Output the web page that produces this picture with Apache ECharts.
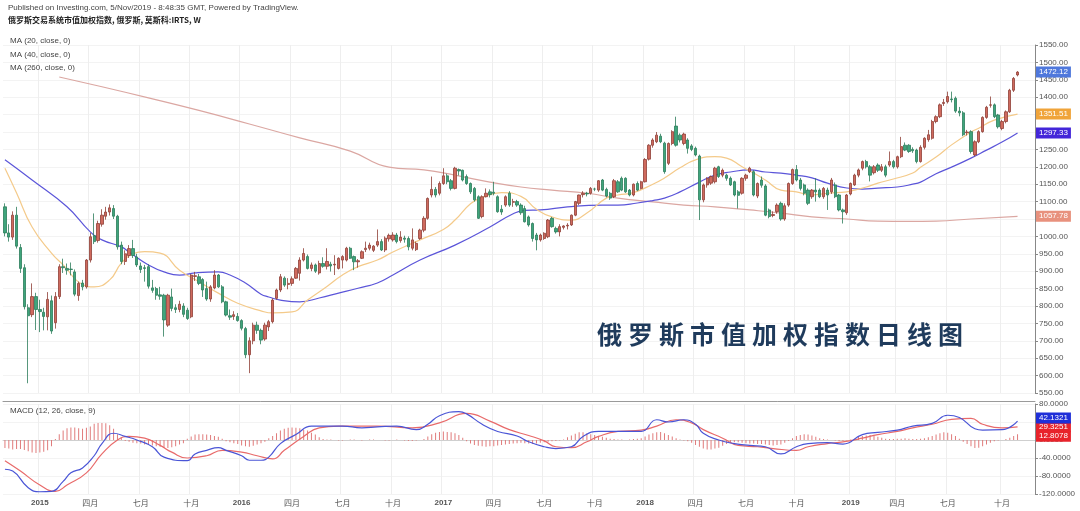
<!DOCTYPE html>
<html><head><meta charset="utf-8">
<script src="https://cdn.jsdelivr.net/npm/echarts@6/dist/echarts.min.js"></script>
<style>
html,body{margin:0;padding:0;background:#fff;}
#wrap{position:relative;width:1080px;height:511px;}
#c{width:1080px;height:511px;}
#ov{position:absolute;left:597px;top:315px;font:bold 25px "Noto Sans CJK SC";letter-spacing:6px;color:#1f3b5c;white-space:nowrap;pointer-events:none;}
</style></head><body>
<div id="wrap"><div id="c"></div><div id="ov">俄罗斯市值加权指数日线图</div></div>
<script>
// ---- DATA ----
const firstWeek = '2014-11-03';
const futureWeeks = 4;
// weekly [open, high, low, close]
const weeklyOHLC = [
[1085,1095,1000,1010],[1010,1035,985,998],[998,1072,990,1061],[1061,1085,965,972],[968,978,895,908],
[910,920,790,798],[795,805,578,772],[775,865,768,827],[827,838,731,790],[790,818,725,784],
[782,795,730,770],[769,840,730,819],[815,830,720,728],[752,840,735,827],[827,920,820,913],
[913,936,895,910],[908,922,890,903],[906,925,888,905],[898,905,828,834],[830,870,815,865],
[866,875,845,855],[855,935,850,932],[932,1010,925,999],[1002,1066,978,985],[988,1045,982,1037],
[1035,1078,1028,1061],[1058,1085,1048,1070],[1070,1092,1060,1082],[1080,1090,1050,1058],[1058,1062,962,970],
[975,985,920,928],[928,960,918,950],[945,975,938,965],[965,990,938,945],[941,950,912,918],
[915,925,895,905],[910,918,870,908],[913,920,850,857],[852,875,838,845],[850,855,818,831],
[832,855,818,828],[831,835,712,760],[745,835,740,831],[826,850,785,793],[795,805,780,790],
[790,815,782,805],[800,808,768,776],[788,795,760,764],[769,892,765,889],[885,898,872,887],
[884,892,860,865],[876,880,826,846],[850,870,815,820],[820,860,812,855],[852,903,848,889],
[889,892,852,855],[855,860,808,812],[812,815,770,774],[772,790,760,768],[770,785,760,775],
[770,780,755,758],[758,762,730,736],[735,740,650,660],[660,710,607,700],[700,752,690,745],
[745,755,720,730],[730,735,690,702],[705,752,700,745],[740,760,728,755],[755,822,750,817],
[822,850,818,846],[846,892,840,884],[880,885,855,860],[862,880,848,865],[865,885,858,878],
[880,912,878,908],[894,940,873,932],[932,966,928,951],[942,948,905,908],[908,925,900,918],
[918,922,895,900],[895,930,890,922],[922,940,910,914],[914,966,905,928],[920,927,899,915],
[918,946,889,920],[908,940,905,937],[932,946,908,942],[932,970,928,966],[966,970,935,937],
[942,945,903,927],[927,935,910,930],[937,960,935,956],[962,985,955,966],[966,982,960,975],
[960,975,955,972],[975,1020,970,985],[985,992,958,961],[961,1000,955,995],[993,1008,985,1003],
[990,1012,985,1004],[1004,1010,980,985],[988,1015,982,998],[995,1002,982,992],[994,1000,960,970],
[966,1023,960,990],[962,985,958,980],[994,1022,990,1018],[1018,1058,1012,1052],[1052,1112,1048,1109],
[1119,1172,1112,1135],[1135,1142,1112,1119],[1124,1158,1118,1152],[1152,1196,1148,1174],[1174,1180,1150,1157],
[1160,1165,1132,1138],[1138,1200,1135,1196],[1192,1195,1175,1188],[1190,1192,1158,1162],[1172,1178,1148,1152],
[1152,1155,1122,1128],[1138,1142,1100,1105],[1114,1118,1050,1052],[1057,1118,1052,1114],[1114,1138,1112,1124],
[1128,1135,1112,1120],[1127,1157,1118,1124],[1114,1118,1068,1071],[1078,1090,1062,1070],[1090,1118,1085,1114],
[1124,1130,1085,1090],[1098,1108,1085,1100],[1100,1105,1085,1090],[1090,1095,1062,1068],[1080,1088,1040,1042],
[1056,1060,1028,1033],[1037,1040,985,994],[1004,1010,960,990],[990,1008,985,1004],[994,1012,990,1009],
[999,1050,995,1047],[1052,1056,1025,1028],[1023,1028,1008,1013],[1013,1035,1000,1028],[1026,1032,1020,1030],
[1030,1038,1020,1032],[1033,1063,1030,1061],[1061,1102,1058,1100],[1095,1120,1090,1119],[1120,1130,1112,1124],
[1124,1128,1115,1122],[1124,1142,1120,1138],[1136,1140,1130,1136],[1133,1162,1128,1160],[1162,1165,1130,1133],
[1135,1140,1112,1116],[1124,1128,1105,1110],[1114,1165,1110,1160],[1157,1162,1125,1128],[1167,1172,1130,1133],
[1167,1170,1125,1128],[1133,1136,1115,1119],[1119,1152,1115,1150],[1152,1158,1130,1133],[1138,1160,1135,1157],
[1157,1225,1155,1221],[1222,1265,1218,1262],[1262,1282,1255,1277],[1272,1300,1268,1291],[1288,1295,1268,1272],
[1268,1272,1180,1186],[1210,1270,1205,1267],[1267,1305,1262,1301],[1317,1344,1258,1262],[1291,1296,1270,1277],
[1267,1298,1262,1294],[1277,1282,1238,1253],[1260,1265,1245,1250],[1253,1258,1230,1234],[1231,1235,1047,1105],
[1105,1152,1098,1148],[1148,1170,1140,1167],[1153,1175,1148,1172],[1157,1200,1152,1196],[1200,1203,1168,1172],
[1176,1195,1170,1190],[1176,1180,1160,1167],[1167,1172,1145,1148],[1157,1160,1115,1119],[1128,1133,1080,1118],
[1124,1170,1120,1167],[1167,1180,1160,1176],[1186,1200,1182,1196],[1186,1190,1115,1119],[1116,1155,1110,1152],
[1162,1172,1140,1147],[1145,1150,1058,1061],[1076,1080,1052,1057],[1060,1072,1055,1063],[1071,1095,1065,1090],
[1095,1100,1045,1050],[1050,1095,1045,1088],[1090,1155,1085,1152],[1152,1195,1148,1192],[1192,1205,1158,1162],
[1162,1168,1132,1138],[1148,1152,1118,1124],[1133,1138,1090,1095],[1114,1136,1108,1133],[1133,1167,1100,1128],
[1133,1138,1110,1114],[1114,1142,1108,1138],[1133,1140,1076,1119],[1128,1168,1122,1162],[1148,1155,1110,1114],
[1119,1122,1072,1076],[1076,1080,1037,1071],[1068,1122,1062,1119],[1122,1155,1118,1152],[1148,1180,1145,1176],
[1176,1195,1170,1191],[1196,1218,1190,1215],[1215,1220,1195,1200],[1200,1205,1158,1176],[1183,1205,1178,1200],
[1205,1210,1185,1190],[1190,1208,1185,1200],[1200,1206,1170,1176],[1205,1244,1200,1215],[1215,1220,1195,1200],
[1200,1232,1195,1229],[1229,1286,1225,1258],[1262,1270,1245,1248],[1262,1265,1240,1244],[1250,1256,1240,1246],
[1248,1252,1210,1215],[1215,1262,1212,1256],[1256,1285,1250,1282],[1278,1306,1272,1292],[1282,1335,1278,1330],
[1330,1348,1325,1344],[1344,1382,1340,1378],[1382,1395,1375,1385],[1387,1416,1382,1402],[1395,1416,1385,1393],
[1397,1402,1355,1360],[1360,1372,1345,1355],[1355,1360,1288,1292],[1298,1306,1290,1300],[1301,1305,1238,1244],
[1234,1276,1230,1272],[1272,1305,1268,1301],[1301,1345,1298,1342],[1342,1375,1338,1371],[1377,1402,1370,1378],
[1378,1382,1340,1344],[1349,1352,1310,1315],[1310,1335,1305,1330],[1330,1362,1325,1358],[1358,1424,1355,1420],
[1420,1458,1415,1454],[1464,1475,1460,1472.12]
];
// moving averages: [weekIndex, value]
const ma20 = [[0,1196],[3,1125],[7,1027],[12,952],[15,918],[20,862],[23,855],[27,875],[30,923],[33,950],[36,956],[40,952],[45,903],[50,870],[55,837],[60,808],[66,786],[69,780],[74,783],[78,817],[83,856],[87,889],[91,913],[96,932],[100,955],[107,990],[113,1020],[116,1047],[120,1094],[123,1112],[128,1126],[133,1115],[137,1078],[141,1056],[146,1047],[150,1067],[155,1110],[158,1119],[162,1126],[167,1150],[170,1168],[174,1197],[178,1220],[183,1229],[186,1225],[190,1200],[193,1182],[196,1162],[200,1133],[204,1128],[208,1119],[212,1124],[217,1128],[219,1133],[222,1142],[225,1153],[229,1165],[234,1182],[236,1199],[240,1228],[244,1263],[249,1300],[251,1311],[255,1334],[261,1351.51]];
const ma40 = [[0,1220],[7,1162],[16,1085],[22,1013],[25,990],[30,970],[32,955],[37,918],[41,898],[45,889],[49,895],[55,898],[58,889],[62,866],[66,834],[68,826],[71,817],[76,812],[81,823],[86,837],[91,851],[96,866],[100,889],[107,932],[116,975],[125,1027],[131,1065],[134,1075],[138,1076],[145,1085],[154,1090],[158,1090],[163,1096],[167,1103],[170,1110],[174,1128],[179,1156],[183,1176],[187,1185],[192,1191],[196,1185],[200,1182],[204,1176],[208,1168],[212,1153],[217,1139],[221,1136],[225,1139],[230,1142],[234,1150],[236,1156],[240,1180],[244,1199],[249,1225],[253,1248],[257,1271],[261,1297.33]];
const ma260 = [[14,1458],[25,1430],[37,1398],[50,1362],[63,1323],[76,1283],[89,1245],[99,1199],[108,1191],[116,1176],[125,1156],[133,1142],[141,1133],[150,1124],[158,1110],[167,1099],[175,1090],[183,1085],[192,1076],[200,1067],[208,1056],[217,1050],[225,1044],[233,1043],[240,1044],[249,1050],[261,1057.78]];
// MACD (12,26,close,9)
const macdLine = [[0,-65],[2,-69],[6,-106],[9,-115],[12,-114],[15,-92],[17,-73],[20,-62],[23,-35],[25,-8],[28,15],[31,8],[34,0],[38,-15],[41,-38],[47,-46],[49,-31],[52,-23],[55,-17],[57,-23],[61,-35],[63,-45],[66,-45],[68,-38],[71,-8],[75,12],[79,31],[83,31],[87,31],[92,27],[96,29],[101,31],[106,23],[109,35],[112,54],[117,63],[119,58],[123,35],[127,19],[132,9],[135,-4],[139,-15],[142,-19],[146,-15],[149,8],[153,19],[158,19],[164,19],[168,45],[171,40],[175,45],[178,35],[180,15],[184,0],[188,-8],[192,-12],[196,-15],[200,-31],[204,-15],[207,-8],[212,-6],[216,-9],[221,12],[225,17],[230,22],[234,31],[239,37],[243,55],[246,50],[250,25],[252,22],[257,23],[261,42.1321]];
const signalLine = [[0,-46],[4,-69],[9,-100],[13,-114],[16,-100],[21,-73],[25,-31],[29,0],[32,8],[36,4],[40,-12],[43,-27],[47,-40],[52,-35],[56,-23],[61,-27],[65,-35],[69,-42],[72,-23],[77,8],[81,27],[86,31],[96,31],[105,27],[112,38],[119,59],[125,42],[130,23],[135,10],[139,-2],[142,-15],[146,-17],[150,-4],[153,8],[158,19],[164,22],[168,31],[173,45],[177,38],[180,23],[185,4],[189,-12],[194,-15],[198,-19],[204,-23],[207,-15],[212,-8],[216,-4],[221,4],[225,12],[230,19],[234,27],[239,35],[244,46],[249,48],[252,35],[257,27],[261,29.3251]];
const macdHist = [
-18,-19,-21,-20,-20,-22,-25,-28,-29,-28,-26,-23,-14,
2,13,21,26,28,28,26,25,27,30,36,38,38,37,33,25,
13,5,-2,
-4,-6,-7,-8,-10,-11,-12,-14,-15,-17,-18,-16,-14,-10,-7,
3,8,12,13,13,12,11,9,7,3,
-3,-5,-7,-9,-12,-14,-15,-13,-10,-7,-4,
4,9,15,21,25,27,28,27,26,23,21,16,12,6,
2,1,1,0,-1,-1,0,1,1,0,-1,0,1,1,0,0,-1,-1,0,1,0,-1,-2,-2,-1,0,2,
8,13,16,18,19,18,17,15,11,5,
-3,-8,-11,-13,-14,-15,-14,-14,-12,-11,-10,-9,-8,-7,-6,-7,-8,-9,-8,-6,
-5,-4,-3,-2,-1,1,
6,10,14,17,17,15,13,11,9,7,5,3,
2,1,1,0,1,2,3,4,
8,12,15,17,18,15,11,8,4,
1,-1,-3,
-6,-11,-15,-19,-21,-21,-19,-17,-13,-9,
-6,-5,-5,-6,-7,-8,-8,-9,-9,-10,-11,-12,-11,-10,-6,-2,
4,9,11,13,12,10,7,4,
2,1,0,-1,-2,-2,-1,1,3,
7,9,10,11,9,7,5,
3,2,2,3,3,4,3,2,2,3,4,6,
9,12,15,17,16,13,9,3,
-4,-9,-14,-18,-17,-14,-10,-6,
-3,-1,0,2,5,9,12.8078
];
const monthLabels = {1:null, 4:'四月', 7:'七月', 10:'十月'};

// ---- BUILD ----
const weeks = [];
const t0 = Date.parse(firstWeek + 'T00:00:00Z');
for (let k = 0; k < weeklyOHLC.length + futureWeeks; k++) {
  weeks.push(new Date(t0 + k * 7 * 86400000).toISOString().slice(0, 10));
}
function isMark(idx) {
  if (idx === 0) return false;
  const m = +weeks[idx].slice(5, 7), pm = +weeks[idx - 1].slice(5, 7);
  return m !== pm && (m in monthLabels);
}
function fmtLabel(v) {
  const m = +v.slice(5, 7);
  return m === 1 ? '{y|' + v.slice(0, 4) + '}' : monthLabels[m];
}
const candleData = weeklyOHLC.map(d => [d[0], d[3], d[2], d[1]]);
const last = a => a[a.length - 1];
const FONT = 'Liberation Sans';

function badge(val, bg, digits, dy) {
  return {
    symbol: ['none', 'none'], silent: true, animation: false,
    lineStyle: { color: 'rgba(0,0,0,0)', width: 0, type: 'solid' },
    label: { show: true, position: 'end', distance: 1, formatter: val.toFixed(digits),
      backgroundColor: bg, color: '#fff', fontSize: 8, fontFamily: FONT, padding: [2, 3, 1, 3],
      offset: [0, dy || 0] },
    emphasis: { disabled: true },
    data: [{ yAxis: val }]
  };
}

const xCommon = {
  type: 'category', data: weeks, boundaryGap: true,
  axisTick: { show: false },
  splitLine: { show: true, interval: (i) => isMark(i), lineStyle: { color: '#eeeeee', width: 1 } }
};

const option = {
  animation: false,
  backgroundColor: '#ffffff',
  title: [
    { text: 'Published on Investing.com, 5/Nov/2019 - 8:48:35 GMT, Powered by TradingView.', left: 8, top: 4, padding: 0,
      textStyle: { fontSize: 8, fontWeight: 'normal', color: '#444', fontFamily: FONT } },
    { text: '俄罗斯交易系统市值加权指数, 俄罗斯, 莫斯科:IRTS, W', left: 8, top: 16, padding: 0,
      textStyle: { fontSize: 8, fontWeight: 'bold', color: '#222', fontFamily: 'Noto Sans CJK SC' } },
    { text: 'MA (20, close, 0)', left: 10, top: 37, padding: 0, textStyle: { fontSize: 8, fontWeight: 'normal', color: '#444', fontFamily: FONT } },
    { text: 'MA (40, close, 0)', left: 10, top: 51, padding: 0, textStyle: { fontSize: 8, fontWeight: 'normal', color: '#444', fontFamily: FONT } },
    { text: 'MA (260, close, 0)', left: 10, top: 64, padding: 0, textStyle: { fontSize: 8, fontWeight: 'normal', color: '#444', fontFamily: FONT } },
    { text: 'MACD (12, 26, close, 9)', left: 10, top: 407, padding: 0, textStyle: { fontSize: 8, fontWeight: 'normal', color: '#444', fontFamily: FONT } }
  ],
  grid: [
    { left: 3, right: 45, top: 45, height: 348 },
    { left: 3, right: 45, top: 404, height: 90 }
  ],
  xAxis: [
    Object.assign({}, xCommon, { gridIndex: 0, offset: 8,
      axisLine: { show: true, lineStyle: { color: '#9a9a9a' } }, axisLabel: { show: false } }),
    Object.assign({}, xCommon, { gridIndex: 1,
      axisLine: { show: true, lineStyle: { color: '#cfcfcf' } },
      axisLabel: { show: true, interval: (i) => isMark(i), formatter: fmtLabel, fontSize: 8, color: '#555', fontFamily: 'Noto Sans CJK SC', margin: 5,
        rich: { y: { fontSize: 8, fontWeight: 'bold', color: '#555', fontFamily: FONT } } } })
  ],
  yAxis: [
    { type: 'value', gridIndex: 0, position: 'right', min: 550, max: 1550, interval: 50,
      axisLine: { show: true, lineStyle: { color: '#888' } },
      axisTick: { show: true, length: 3, lineStyle: { color: '#888' } },
      axisLabel: { fontSize: 8, color: '#555', fontFamily: FONT, margin: 4, formatter: v => v.toFixed(2) },
      splitLine: { show: true, lineStyle: { color: '#f3f3f3' } } },
    { type: 'value', gridIndex: 1, position: 'right', min: -120, max: 80, interval: 40,
      axisLine: { show: true, lineStyle: { color: '#888' } },
      axisTick: { show: true, length: 3, lineStyle: { color: '#888' } },
      axisLabel: { fontSize: 8, color: '#555', fontFamily: FONT, margin: 4, formatter: v => v.toFixed(4) },
      splitLine: { show: true, lineStyle: { color: '#f3f3f3' } } }
  ],
  series: [
    { type: 'line', name: 'MA260', xAxisIndex: 0, yAxisIndex: 0, data: ma260, showSymbol: false, smooth: true,
      lineStyle: { color: '#dba7a2', width: 1.2 }, z: 2,
      markLine: badge(last(ma260)[1], '#e8917d', 2) },
    { type: 'line', name: 'MA40', xAxisIndex: 0, yAxisIndex: 0, data: ma40, showSymbol: false, smooth: true,
      lineStyle: { color: '#5b55d9', width: 1.2 }, z: 2,
      markLine: badge(last(ma40)[1], '#4326d9', 2) },
    { type: 'line', name: 'MA20', xAxisIndex: 0, yAxisIndex: 0, data: ma20, showSymbol: false, smooth: true,
      lineStyle: { color: '#f4ca8a', width: 1.2 }, z: 2,
      markLine: badge(last(ma20)[1], '#f0a43a', 2) },
    { type: 'candlestick', name: 'IRTS', xAxisIndex: 0, yAxisIndex: 0, data: candleData, barWidth: 2.8, z: 3,
      itemStyle: { color: '#cf6a5e', color0: '#3fa57c', borderColor: '#8f3f36', borderColor0: '#2c7c5b', borderWidth: 0.8 },
      markLine: badge(last(weeklyOHLC)[3], '#4f78dc', 2) },
    { type: 'bar', name: 'Histogram', xAxisIndex: 1, yAxisIndex: 1, data: macdHist, barWidth: 1,
      itemStyle: { color: '#e07b7b' },
      markLine: badge(last(macdHist), '#e8232b', 4, 2) },
    { type: 'line', name: 'Signal', xAxisIndex: 1, yAxisIndex: 1, data: signalLine, showSymbol: false, smooth: true,
      lineStyle: { color: '#e86a6a', width: 1.2 },
      markLine: badge(last(signalLine)[1], '#e8232b', 4) },
    { type: 'line', name: 'MACD', xAxisIndex: 1, yAxisIndex: 1, data: macdLine, showSymbol: false, smooth: true,
      lineStyle: { color: '#4a55d6', width: 1.2 },
      markLine: badge(last(macdLine)[1], '#1f2fd8', 4, -3) }
  ]
};
const chart = echarts.init(document.getElementById('c'));
chart.setOption(option);
</script>
</body></html>
